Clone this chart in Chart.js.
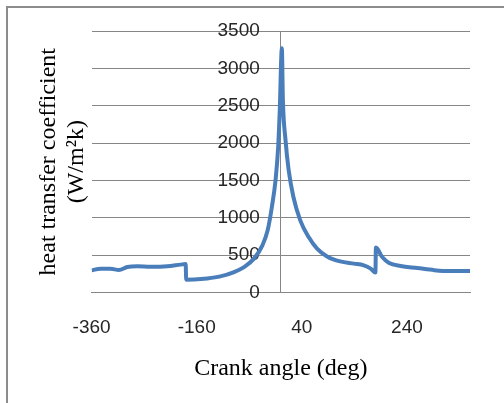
<!DOCTYPE html>
<html>
<head>
<meta charset="utf-8">
<script src="https://cdn.jsdelivr.net/npm/chart.js@4"></script>
<style>
html, body { margin: 0; padding: 0; background: #fff; overflow: hidden; }
#frame { position: absolute; left: 6px; top: 6px; width: 600px; height: 500px; border: 2px solid #8c8c8c; }
#chart { position: absolute; left: 0; top: 0; }
</style>
</head>
<body>
<div id="frame"></div>
<canvas id="chart" width="504" height="403"></canvas>
<script>
// crank angle (deg) and heat transfer coefficient (W/m2k)
var crankAngle = [-360, -343, -324, -308, -292, -273, -248, -216, -191, -181, -180, -165, -140, -115, -89, -70, -51, -35, -25, -17, -10, -5, -2, 2, 4, 9, 15, 24, 37, 53, 69, 88, 113, 139, 158, 171, 180, 181, 193, 206, 228, 260, 292, 323, 360];
var htc = [295, 318, 318, 300, 340, 349, 342, 349, 372, 380, 170, 172, 186, 214, 272, 339, 452, 630, 831, 1143, 1501, 1947, 2439, 3270, 2573, 2037, 1635, 1277, 965, 741, 586, 482, 415, 385, 362, 318, 265, 600, 473, 393, 353, 326, 298, 286, 286];
var xTicks = [-360, -160, 40, 240];

var points = [];
for (var i = 0; i < crankAngle.length; i++) {
    points.push({x: crankAngle[i], y: htc[i]});
}

var tickFont = {family: "Liberation Sans", size: 19};
var titleFont = {family: "Liberation Serif", size: 24, lineHeight: 1.2};
var gridGrey = "#868686";
var plain = function(v) { return String(v); };

new Chart(document.getElementById("chart"), {
    type: "line",
    data: {
        datasets: [{
            data: points,
            borderColor: "#4a7ebb",
            borderWidth: 4,
            pointRadius: 0,
            fill: false,
            cubicInterpolationMode: "monotone"
        }]
    },
    options: {
        responsive: false,
        animation: false,
        devicePixelRatio: 1,
        layout: {padding: {left: 34, top: 31, right: 34, bottom: 20}},
        plugins: {legend: {display: false}, tooltip: {enabled: false}},
        scales: {
            x: {
                type: "linear",
                position: "bottom",
                min: -360,
                max: 360,
                afterBuildTicks: function(axis) {
                    axis.ticks = xTicks.map(function(v) { return {value: v}; });
                },
                grid: {display: false, drawTicks: false},
                border: {display: true, color: gridGrey, width: 1},
                ticks: {padding: 24, color: "#262626", font: tickFont, callback: plain},
                title: {display: true, text: "Crank angle (deg)", color: "#000", font: titleFont, padding: {top: -9, bottom: 0}}
            },
            y: {
                position: "left",
                min: 0,
                max: 3500,
                ticks: {display: false, stepSize: 500},
                grid: {color: gridGrey, drawTicks: false},
                border: {display: false},
                title: {display: true, text: ["heat transfer coefficient", "(W/m\u00b2k)"], color: "#000", font: titleFont, padding: 0}
            },
            // tick labels sit a little left of the vertical axis line
            yLabels: {
                axis: "y",
                position: {x: -40},
                min: 0,
                max: 3500,
                ticks: {stepSize: 500, color: "#262626", font: tickFont, callback: plain},
                grid: {display: false},
                border: {display: false}
            },
            // the vertical axis line through 0 deg
            yLine: {
                axis: "y",
                position: {x: 0},
                min: 0,
                max: 3500,
                ticks: {display: false},
                grid: {display: false},
                border: {display: true, color: gridGrey, width: 1}
            }
        }
    }
});
</script>
</body>
</html>
